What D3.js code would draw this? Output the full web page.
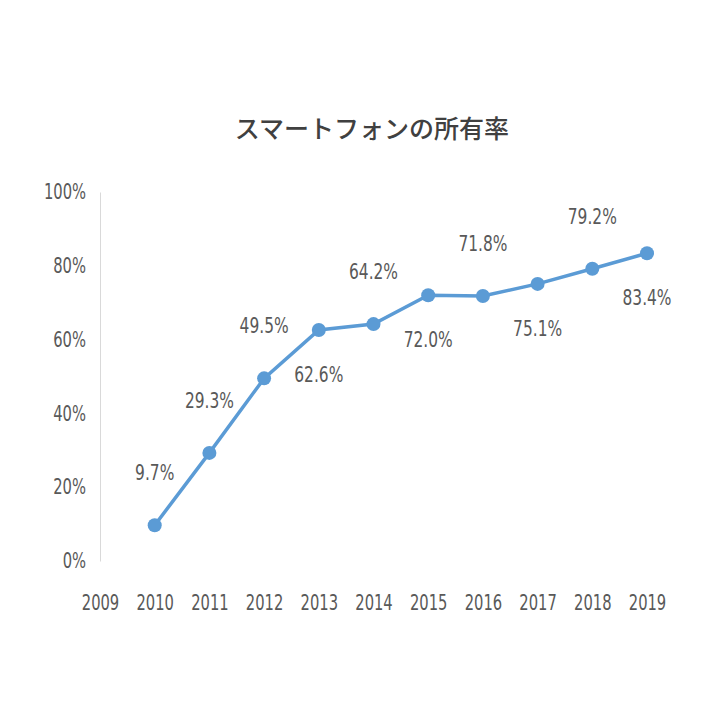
<!DOCTYPE html>
<html><head><meta charset="utf-8">
<script src="https://cdn.jsdelivr.net/npm/d3@7/dist/d3.min.js"></script>
<style>body{margin:0;background:#fff}text{font-family:"DejaVu Sans Condensed","DejaVu Sans",sans-serif;fill:#595959}</style>
</head><body><svg id="c" width="720" height="720"></svg>
<script>
const years=[2010,2011,2012,2013,2014,2015,2016,2017,2018,2019];
const values=[9.7,29.3,49.5,62.6,64.2,72.0,71.8,75.1,79.2,83.4];
const labelPos=["above","above","above","below","above","below","above","below","above","below"];
const xTicks=[2009,2010,2011,2012,2013,2014,2015,2016,2017,2018,2019];
const yTicks=[0,20,40,60,80,100];
const svg=d3.select("#c");
const x=d3.scaleLinear().domain([2009,2019]).range([100,647]);
const y=d3.scaleLinear().domain([0,100]).range([561,192]);
svg.append("text").attr("x",372).attr("y",138).attr("text-anchor","middle").attr("font-size",25).attr("font-weight",500).style("fill","#404040").text("スマートフォンの所有率").style("font-family","'Noto Sans CJK JP',sans-serif");
// narrow text: draw at x/sx, then scale
const sx=0.78;
function narrow(sel,fs){sel.attr("font-size",fs).style("font-family","'DejaVu Sans Condensed',sans-serif");}
const ya=svg.append("g").attr("transform","translate(100,0)").call(d3.axisLeft(y).tickValues(yTicks).tickSize(0).tickPadding(14).tickFormat(d=>d+"%"));
ya.select(".domain").attr("stroke","#d9d9d9").attr("stroke-width",1);
ya.selectAll(".tick text").each(function(){const t=d3.select(this);t.attr("x",-14/sx).attr("transform",`scale(${sx},1)`);});
narrow(ya.selectAll("text"),21);
const xa=svg.append("g").attr("transform","translate(0,561)").call(d3.axisBottom(x).tickValues(xTicks).tickSize(0).tickPadding(34).tickFormat(d3.format("d")));
xa.select(".domain").remove();
xa.selectAll("text").attr("transform",`scale(${sx},1)`);
narrow(xa.selectAll("text"),21);
const data=years.map((d,i)=>({yr:d,v:values[i],p:labelPos[i]}));
svg.append("path").datum(data).attr("fill","none").attr("stroke","#5B9BD5").attr("stroke-width",3.5)
 .attr("d",d3.line().x(d=>x(d.yr)).y(d=>y(d.v)));
svg.selectAll("circle").data(data).join("circle").attr("cx",d=>x(d.yr)).attr("cy",d=>y(d.v)).attr("r",7).attr("fill","#5B9BD5");
svg.selectAll(".lbl").data(data).join("text").attr("class","lbl")
 .attr("transform",d=>`translate(${x(d.yr)},${y(d.v)+(d.p==="above"?-45:52)}) scale(${sx},1)`)
 .attr("text-anchor","middle").attr("font-size",22)
 .text(d=>d.v.toFixed(1)+"%");
</script></body></html>
